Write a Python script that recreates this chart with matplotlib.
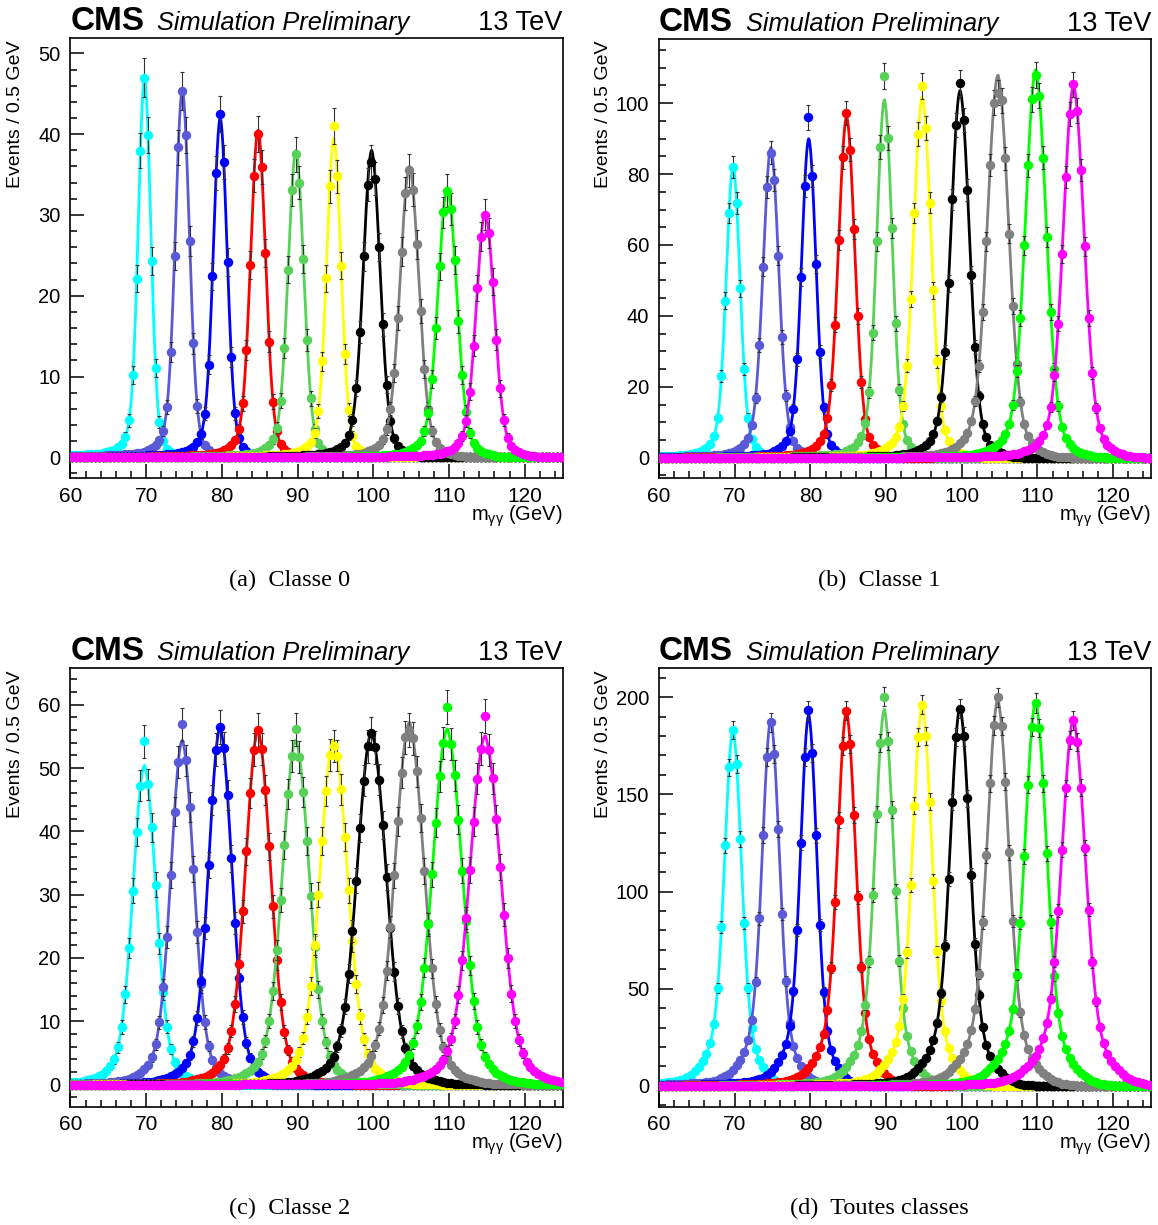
import numpy as np
import matplotlib
matplotlib.use("Agg")
import matplotlib.pyplot as plt
from matplotlib.ticker import MultipleLocator

plt.rcParams['font.family'] = ['Liberation Sans', 'DejaVu Sans']
plt.rcParams['mathtext.fontset'] = 'custom'
plt.rcParams['mathtext.rm'] = 'Liberation Sans'
plt.rcParams['mathtext.it'] = 'Liberation Sans:italic'

# mass points and colours (70 ... 115 GeV)
masses = [70, 75, 80, 85, 90, 95, 100, 105, 110, 115]
colors = ['#00ffff', '#5a5ad8', '#0000ff', '#ff0000', '#57d157',
          '#ffff00', '#000000', '#808080', '#00ff00', '#ff00ff']

# fitted peak height, peak-bin data value, core width (GeV)
height_a = [47.0, 45.5, 42.0, 40.5, 38.0, 39.5, 38.0, 36.0, 33.4, 30.3]
peak_a = [47.0, 45.3, 42.5, 40.0, 37.5, 41.0, 36.5, 35.5, 33.0, 30.0]
sigma_a = [0.80, 0.90, 0.88, 0.96, 1.00, 0.92, 1.08, 1.20, 1.20, 1.16]

height_b = [82.3, 87.5, 90.0, 96.2, 101.0, 101.8, 103.6, 107.9, 109.5, 105.0]
peak_b = [82.0, 86.0, 96.0, 97.3, 107.6, 104.8, 105.7, 103.0, 108.0, 105.3]
sigma_b = [0.88, 1.00, 0.92, 1.04, 0.98, 1.12, 1.18, 1.36, 1.32, 1.32]

height_c = [50.4, 54.4, 56.4, 55.9, 54.4, 54.5, 55.7, 57.2, 56.2, 55.1]
peak_c = [54.2, 56.9, 56.5, 56.0, 56.1, 53.5, 55.5, 56.0, 59.6, 58.2]
sigma_c = [1.46, 1.46, 1.48, 1.60, 1.72, 1.76, 1.84, 1.84, 1.88, 1.96]

height_d = [183.5, 188.7, 191.0, 193.0, 193.8, 196.0, 195.0, 199.0, 198.0, 189.0]
peak_d = [183.0, 187.0, 193.3, 193.0, 200.3, 196.0, 194.0, 200.0, 197.0, 188.0]
sigma_d = [1.06, 1.08, 1.02, 1.14, 1.17, 1.21, 1.25, 1.36, 1.36, 1.48]

# tail fraction, tail width factor, low-side tail fraction, low-side slope (GeV)
tails_a = (0.10, 2.2, 0.03, 6.0)
tails_b = (0.12, 2.2, 0.03, 6.0)
tails_c = (0.12, 2.2, 0.03, 6.0)
tails_d = (0.22, 2.4, 0.05, 6.0)

captions = ['(a)  Classe 0', '(b)  Classe 1', '(c)  Classe 2', '(d)  Toutes classes']
ylims = [(-2.6, 51.9), (-5.8, 118.1), (-3.5, 65.8), (-10.7, 215.0)]
yticks = [(10, 2), (20, 5), (10, 2), (50, 10)]
err_scale = 0.35

W, H = 1158, 1225
fig = plt.figure(figsize=(W / 100, H / 100), dpi=100)


def box(l, t, r, b):
    return [l / W, 1 - b / H, (r - l) / W, (b - t) / H]


def shape(x, mu, s, tails):
    ft, kt, fl, lam = tails
    core = np.exp(-0.5 * ((x - mu) / s) ** 2)
    wide = ft * np.exp(-0.5 * ((x - mu) / (kt * s)) ** 2)
    low = fl * np.where(x < mu, np.exp(-(mu - x) / lam), np.exp(-(x - mu) / 0.4))
    return (core + wide + low) / (1 + ft + fl)


boxes = [(70.4, 38, 562.6, 478.3), (659, 39, 1151, 478.3),
         (70.4, 668, 562.6, 1106.7), (659, 668, 1151, 1106.7)]
cap_x = [290, 879.5, 290, 879.5]
panels = [(height_a, peak_a, sigma_a, tails_a), (height_b, peak_b, sigma_b, tails_b),
          (height_c, peak_c, sigma_c, tails_c), (height_d, peak_d, sigma_d, tails_d)]

xfine = np.linspace(60, 125, 1500)
xbins = np.arange(60.25, 125, 0.5)

for p, (l, t, r, b) in enumerate(boxes):
    ax = fig.add_axes(box(l, t, r, b))
    heights, peaks, sigmas, tails = panels[p]
    for i, m in enumerate(masses):
        mu = m - 0.2
        c = colors[i]
        ax.plot(xfine, heights[i] * shape(xfine, mu, sigmas[i], tails),
                color=c, lw=2.0, zorder=2 + i)
        yb = heights[i] * shape(xbins, mu, sigmas[i], tails)
        yb[np.argmin(np.abs(xbins - mu))] = peaks[i]
        ax.errorbar(xbins, yb, yerr=err_scale * np.sqrt(yb), fmt='o', ms=5.8,
                    color=c, mec=c, ecolor='#333333', elinewidth=0.8,
                    capsize=1.5, capthick=0.8, zorder=2 + i)

    ax.set_xlim(60, 125)
    ax.set_ylim(*ylims[p])
    ax.xaxis.set_major_locator(MultipleLocator(10))
    ax.xaxis.set_minor_locator(MultipleLocator(2))
    ax.yaxis.set_major_locator(MultipleLocator(yticks[p][0]))
    ax.yaxis.set_minor_locator(MultipleLocator(yticks[p][1]))
    ax.tick_params(which='both', direction='in', top=False, right=False,
                   labelsize=15, width=1.1)
    ax.tick_params(axis='y', labelsize=14.5, pad=7)
    ax.tick_params(axis='x', pad=6)
    ax.tick_params(which='major', length=10)
    ax.tick_params(which='minor', length=5)
    for sp in ax.spines.values():
        sp.set_linewidth(1.2)

    base = 1 - (30 + t - 38) / H
    fig.text(l / W, base, 'CMS', fontsize=24, fontweight='bold',
             ha='left', va='baseline')
    fig.text((l + 87) / W, base, 'Simulation Preliminary',
             fontsize=18.3, style='italic', ha='left', va='baseline')
    fig.text(r / W, base, '13 TeV', fontsize=19.5, ha='right', va='baseline')
    fig.text((l - 55) / W, 1 - (t + 2) / H, 'Events / 0.5 GeV', fontsize=14,
             rotation=90, ha='center', va='top')
    fig.text(r / W, 1 - (b + 38) / H, r'm$_{\mathrm{γγ}}$ (GeV)', fontsize=14.5,
             ha='right', va='center')
    fig.text(cap_x[p] / W, 1 - (b + 102) / H, captions[p], fontsize=17.5,
             family='Liberation Serif', ha='center', va='center')

fig.savefig('out.png', dpi=100)
